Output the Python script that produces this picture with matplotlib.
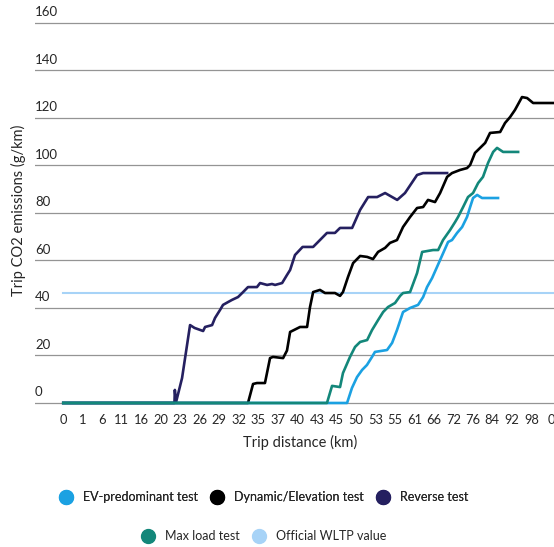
import matplotlib
matplotlib.use("Agg")
import matplotlib.pyplot as plt
from matplotlib.lines import Line2D

plt.rcParams["font.family"] = ["Lato", "DejaVu Sans"]

# category labels on the x axis (one per category slot)
x_labels = ["0", "1", "6", "11", "16", "20", "23", "26", "29", "32", "35", "37", "40",
            "43", "45", "50", "53", "55", "61", "66", "72", "76", "84", "92", "98", "0"]
y_ticks = [0, 20, 40, 60, 80, 100, 120, 140, 160]

# series: x is position along the category axis, y is g/km
reverse_x = [0, 5.70, 5.72, 5.78, 6.09, 6.50, 6.73, 7.17, 7.27, 7.63, 7.78, 8.04, 8.19, 8.45,
             8.65, 8.96, 9.22, 9.47, 9.93, 10.09, 10.45, 10.70, 10.86, 11.22, 11.47, 11.63,
             11.88, 12.27, 12.81, 13.16, 13.52, 13.93, 14.19, 14.81, 15.22, 15.63, 16.09,
             16.50, 17.12, 17.52, 18.14, 18.45, 19.68]
reverse_y = [0, 0, 5.5, 0.3, 10.5, 32.8, 31.6, 30.3, 32.0, 32.8, 35.8, 39.2, 41.3, 42.5,
             43.4, 44.6, 46.7, 48.8, 48.8, 50.5, 49.7, 50.1, 49.7, 50.5, 53.9, 56.0,
             62.3, 65.7, 65.7, 68.6, 71.6, 71.6, 73.7, 73.7, 81.3, 86.7, 86.7,
             88.4, 85.5, 88.4, 96.0, 96.8, 96.8]

dynamic_x = [0, 9.47, 9.73, 9.93, 10.34, 10.60, 10.75, 11.27, 11.47, 11.63, 12.14, 12.50,
             12.65, 12.81, 13.16, 13.42, 13.93, 14.19, 14.34, 14.60, 14.86, 15.22, 15.58,
             15.88, 16.14, 16.50, 16.75, 17.11, 17.42, 17.78, 18.14, 18.45, 18.70, 19.06,
             19.32, 19.68, 19.93, 20.34, 20.70, 20.86, 21.11, 21.37, 21.63, 21.88, 22.40,
             22.65, 22.91, 23.16, 23.52, 23.78, 24.09, 25.6]
dynamic_y = [0, 0, 8.0, 8.4, 8.4, 18.9, 19.4, 18.9, 22.1, 29.9, 32.0, 32.0,
             40.4, 46.7, 47.6, 46.3, 46.3, 45.1, 46.7, 53.1, 58.9, 61.9, 61.5,
             60.6, 63.6, 65.3, 67.4, 68.6, 74.1, 78.3, 82.1, 82.5, 85.5, 84.6,
             88.4, 95.2, 96.8, 98.1, 98.9, 100.2, 105.3, 107.4, 109.5, 113.7, 114.1,
             117.9, 120.4, 123.4, 128.8, 128.4, 126.3, 126.3]

maxload_x = [0, 13.52, 13.78, 14.19, 14.34, 14.70, 14.96, 15.22, 15.58, 15.83, 16.14, 16.40,
             16.65, 17.01, 17.27, 17.42, 17.78, 18.14, 18.40, 18.96, 19.22, 19.47, 19.83,
             20.09, 20.24, 20.50, 20.75, 21.01, 21.27, 21.52, 21.78, 22.04, 22.24, 22.55, 23.32]
maxload_y = [0, 0, 7.2, 6.7, 12.6, 19.4, 23.6, 25.7, 26.5, 30.7, 34.9, 38.3,
             40.4, 42.1, 45.1, 46.3, 46.7, 54.7, 63.6, 64.4, 64.4, 68.6, 72.8,
             76.2, 78.3, 82.5, 86.7, 88.4, 92.6, 95.2, 101.1, 105.7, 107.4, 105.7, 105.7]

ev_x = [0, 14.55, 14.80, 15.06, 15.32, 15.57, 15.83, 15.98, 16.60, 16.86, 17.11, 17.42,
        17.78, 18.19, 18.45, 18.65, 18.91, 19.32, 19.73, 19.93, 20.19, 20.45, 20.70,
        20.86, 21.01, 21.22, 21.47, 22.29]
ev_y = [0, 0, 6.3, 10.9, 13.9, 16.0, 19.4, 21.5, 22.3, 25.3, 30.7, 38.3,
        40.0, 41.3, 44.6, 48.8, 52.6, 60.2, 67.8, 68.6, 71.6, 74.1, 78.3,
        82.5, 86.3, 87.6, 86.3, 86.3]

wltp_x = [0, 25.6]
wltp_y = [46.4, 46.4]

C_EV = "#1ba1e2"
C_DYN = "#000000"
C_REV = "#252060"
C_MAX = "#13877a"
C_WLTP = "#a7d3f7"
TXT = "#262626"

fig = plt.figure(figsize=(5.54, 5.47), dpi=100)
ax = fig.add_axes([35 / 554, 0.2546, 519 / 554, 0.7121])
ax.set_xlim(-1.45, 25.16)
ax.set_ylim(-2, 162)

for v in y_ticks:
    ax.axhline(v, color="#949494", lw=0.9, zorder=0)
    ax.text(0, v + 2.0, str(v), transform=ax.get_yaxis_transform(),
            ha="left", va="bottom", fontsize=9.5, color=TXT)

ax.plot(wltp_x, wltp_y, color=C_WLTP, lw=1.5, zorder=1, clip_on=False)
ax.plot(reverse_x, reverse_y, color=C_REV, lw=1.9, zorder=2)
ax.plot(dynamic_x, dynamic_y, color=C_DYN, lw=1.9, zorder=3)
ax.plot(ev_x, ev_y, color=C_EV, lw=1.9, zorder=4)
ax.plot(maxload_x, maxload_y, color=C_MAX, lw=1.9, zorder=5)

ax.set_xticks(range(len(x_labels)))
ax.set_xticklabels(x_labels, fontsize=9.3, color=TXT)
ax.tick_params(axis="x", length=0, pad=4.5)
ax.set_yticks([])
for s in ax.spines.values():
    s.set_visible(False)

fig.text(300 / 554, 1 - 442 / 547, "Trip distance (km)", ha="center", va="center",
         fontsize=10.5, color=TXT)
fig.text(18 / 554, 1 - 210 / 547, "Trip CO2 emissions (g/km)", ha="center", va="center",
         rotation=90, fontsize=10.5, color=TXT)


def handle(c):
    return Line2D([], [], ls="none", marker="o", markersize=10, color=c)


kw = dict(frameon=False, fontsize=9, handlelength=1.0, handletextpad=0.9,
          columnspacing=1.0, labelcolor=TXT)
leg1 = fig.legend([handle(C_EV), handle(C_DYN), handle(C_REV)],
                  ["EV-predominant test", "Dynamic/Elevation test", "Reverse test"],
                  ncol=3, loc="center", bbox_to_anchor=(264 / 554, 1 - 497 / 547), **kw)
fig.add_artist(leg1)
fig.legend([handle(C_MAX), handle(C_WLTP)], ["Max load test", "Official WLTP value"],
           ncol=2, loc="center", bbox_to_anchor=(264 / 554, 1 - 536 / 547), **kw)

fig.savefig("out.png", dpi=100)
